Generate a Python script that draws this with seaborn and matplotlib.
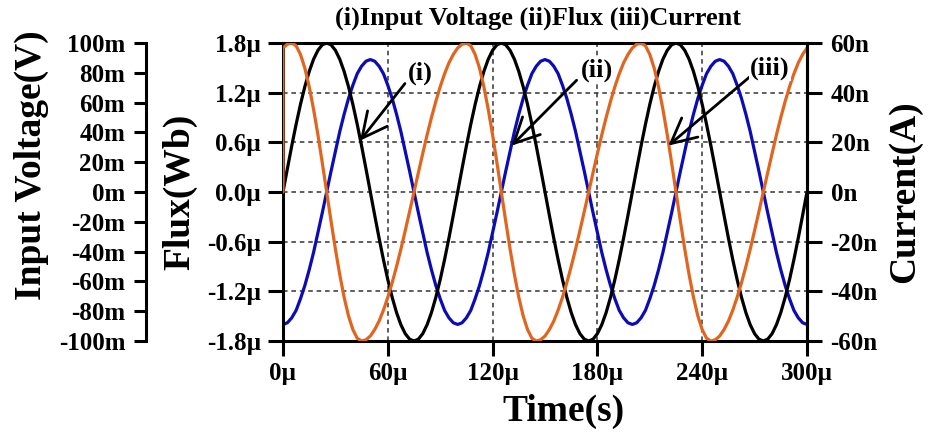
import numpy as np
import pandas as pd
import matplotlib
matplotlib.use("Agg")
import matplotlib.pyplot as plt
import seaborn as sns

# ---------------- data ----------------
time_us = np.arange(0, 300.0 + 1e-9, 2.5)  # sampling grid, 121 points

# (i) input voltage, mV (black)
voltage_mV = [
    0.0, 15.6, 30.9, 45.4, 58.8, 70.7, 80.9, 89.1, 95.1, 98.8,
    100.0, 98.8, 95.1, 89.1, 80.9, 70.7, 58.8, 45.4, 30.9, 15.6,
    0.0, -15.6, -30.9, -45.4, -58.8, -70.7, -80.9, -89.1, -95.1, -98.8,
    -100.0, -98.8, -95.1, -89.1, -80.9, -70.7, -58.8, -45.4, -30.9, -15.6,
    0.0, 15.6, 30.9, 45.4, 58.8, 70.7, 80.9, 89.1, 95.1, 98.8,
    100.0, 98.8, 95.1, 89.1, 80.9, 70.7, 58.8, 45.4, 30.9, 15.6,
    0.0, -15.6, -30.9, -45.4, -58.8, -70.7, -80.9, -89.1, -95.1, -98.8,
    -100.0, -98.8, -95.1, -89.1, -80.9, -70.7, -58.8, -45.4, -30.9, -15.6,
    0.0, 15.6, 30.9, 45.4, 58.8, 70.7, 80.9, 89.1, 95.1, 98.8,
    100.0, 98.8, 95.1, 89.1, 80.9, 70.7, 58.8, 45.4, 30.9, 15.6,
    0.0, -15.6, -30.9, -45.4, -58.8, -70.7, -80.9, -89.1, -95.1, -98.8,
    -100.0, -98.8, -95.1, -89.1, -80.9, -70.7, -58.8, -45.4, -30.9, -15.6,
    0.0,
]

# (ii) flux, uWb (blue)
flux_uWb = [
    -1.60, -1.58, -1.52, -1.43, -1.29, -1.13, -0.94, -0.73, -0.49, -0.25,
    0.00, 0.25, 0.49, 0.73, 0.94, 1.13, 1.29, 1.43, 1.52, 1.58,
    1.60, 1.58, 1.52, 1.43, 1.29, 1.13, 0.94, 0.73, 0.49, 0.25,
    0.00, -0.25, -0.49, -0.73, -0.94, -1.13, -1.29, -1.43, -1.52, -1.58,
    -1.60, -1.58, -1.52, -1.43, -1.29, -1.13, -0.94, -0.73, -0.49, -0.25,
    0.00, 0.25, 0.49, 0.73, 0.94, 1.13, 1.29, 1.43, 1.52, 1.58,
    1.60, 1.58, 1.52, 1.43, 1.29, 1.13, 0.94, 0.73, 0.49, 0.25,
    0.00, -0.25, -0.49, -0.73, -0.94, -1.13, -1.29, -1.43, -1.52, -1.58,
    -1.60, -1.58, -1.52, -1.43, -1.29, -1.13, -0.94, -0.73, -0.49, -0.25,
    0.00, 0.25, 0.49, 0.73, 0.94, 1.13, 1.29, 1.43, 1.52, 1.58,
    1.60, 1.58, 1.52, 1.43, 1.29, 1.13, 0.94, 0.73, 0.49, 0.25,
    0.00, -0.25, -0.49, -0.73, -0.94, -1.13, -1.29, -1.43, -1.52, -1.58,
    -1.60,
]

# (iii) current, nA (orange) -- starts at 0 and jumps at t = 0
current_time_us = [0.0] + list(time_us)
current_nA = [0.0] + [
    58.0, 59.5, 60.0, 58.9, 55.4, 49.9, 42.4, 33.3, 23.0, 11.7,
    0.0, -11.7, -23.0, -33.3, -42.4, -49.9, -55.4, -58.9, -60.0, -59.5,
    -58.0, -55.4, -52.0, -47.6, -42.4, -36.5, -30.0, -23.0, -15.5, -7.8,
    0.0, 7.8, 15.5, 23.0, 30.0, 36.5, 42.4, 47.6, 52.0, 55.4,
    58.0, 59.5, 60.0, 58.9, 55.4, 49.9, 42.4, 33.3, 23.0, 11.7,
    0.0, -11.7, -23.0, -33.3, -42.4, -49.9, -55.4, -58.9, -60.0, -59.5,
    -58.0, -55.4, -52.0, -47.6, -42.4, -36.5, -30.0, -23.0, -15.5, -7.8,
    0.0, 7.8, 15.5, 23.0, 30.0, 36.5, 42.4, 47.6, 52.0, 55.4,
    58.0, 59.5, 60.0, 58.9, 55.4, 49.9, 42.4, 33.3, 23.0, 11.7,
    0.0, -11.7, -23.0, -33.3, -42.4, -49.9, -55.4, -58.9, -60.0, -59.5,
    -58.0, -55.4, -52.0, -47.6, -42.4, -36.5, -30.0, -23.0, -15.5, -7.8,
    0.0, 7.8, 15.5, 23.0, 30.0, 36.5, 42.4, 47.6, 52.0, 55.4,
    58.0,
]

x_ticks = [0, 60, 120, 180, 240, 300]
x_ticklabels = ["0µ", "60µ", "120µ", "180µ", "240µ", "300µ"]
flux_ticks = [-1.8, -1.2, -0.6, 0.0, 0.6, 1.2, 1.8]
flux_ticklabels = ["-1.8µ", "-1.2µ", "-0.6µ", "0.0µ", "0.6µ", "1.2µ", "1.8µ"]
volt_ticks = [-100, -80, -60, -40, -20, 0, 20, 40, 60, 80, 100]
volt_ticklabels = ["-100m", "-80m", "-60m", "-40m", "-20m", "0m",
                   "20m", "40m", "60m", "80m", "100m"]
curr_ticks = [-60, -40, -20, 0, 20, 40, 60]
curr_ticklabels = ["-60n", "-40n", "-20n", "0n", "20n", "40n", "60n"]

title_text = "(i)Input Voltage (ii)Flux (iii)Current"
callout_labels = ["(i)", "(ii)", "(iii)"]
callout_text_xy = [(78.4, 1.44), (179.6, 1.47), (278.8, 1.49)]
callout_tail_xy = [(69.8, 1.31), (168.1, 1.35), (268.3, 1.41)]
callout_tip_xy = [(44.1, 0.62), (130.9, 0.56), (220.6, 0.56)]

# ---------------- style ----------------
sns.set_theme(style="white")
plt.rcParams["font.family"] = ["Liberation Serif", "DejaVu Serif"]
plt.rcParams["font.weight"] = "bold"
plt.rcParams["axes.labelweight"] = "bold"

BLACK = "#000000"
BLUE = "#0c0cb4"
ORANGE = "#e0661f"
LW = 2.3
SPINE_W = 2.2
TICK_FS = 18
LABEL_FS = 27

fig = plt.figure(figsize=(9.31, 4.34), dpi=100)
ax = fig.add_axes([283 / 931, 1 - 341 / 434, 524 / 931, 298 / 434])
ax_v = ax.twinx()
ax_i = ax.twinx()

df_v = pd.DataFrame({"t": time_us, "v": voltage_mV})
df_f = pd.DataFrame({"t": time_us, "f": flux_uWb})
df_i = pd.DataFrame({"t": current_time_us, "i": current_nA})

sns.lineplot(data=df_f, x="t", y="f", ax=ax, color=BLUE, lw=LW,
             estimator=None, sort=False)
sns.lineplot(data=df_v, x="t", y="v", ax=ax_v, color=BLACK, lw=LW,
             estimator=None, sort=False)
sns.lineplot(data=df_i, x="t", y="i", ax=ax_i, color=ORANGE, lw=LW,
             estimator=None, sort=False)

# limits
ax.set_xlim(0, 300)
ax.set_ylim(-1.8, 1.8)
ax_v.set_ylim(-100, 100)
ax_i.set_ylim(-60, 60)

# grid on the main axes
ax.set_xticks(x_ticks)
ax.set_xticklabels(x_ticklabels)
ax.set_yticks(flux_ticks)
ax.set_yticklabels(flux_ticklabels)
ax.grid(True, color="#333333", lw=1.1, linestyle=(0, (3, 2.5)))
ax.set_axisbelow(True)

# main axes (flux) styling
for s in ax.spines.values():
    s.set_visible(True)
    s.set_color("black")
    s.set_linewidth(SPINE_W)
ax.tick_params(axis="both", which="major", direction="out", length=11,
               width=SPINE_W, color="black", labelsize=TICK_FS,
               labelcolor="black", left=True, bottom=True)
ax.tick_params(axis="x", pad=4)
ax.tick_params(axis="y", pad=5)
ax.set_xlabel("Time(s)", fontsize=LABEL_FS, fontweight="bold", color="black")
ax.set_ylabel("Flux(Wb)", fontsize=LABEL_FS, fontweight="bold", color="black")
ax.xaxis.set_label_coords(0.536, -0.238)
ax.xaxis.label.set_va("center")
ax.yaxis.set_label_coords(-0.197, 0.5)
ax.yaxis.label.set_va("center")

# voltage axis, offset to the far left
ax_v.yaxis.tick_left()
ax_v.yaxis.set_label_position("left")
ax_v.spines["left"].set_position(("outward", 98.6))
ax_v.spines["left"].set_visible(True)
ax_v.spines["left"].set_linewidth(SPINE_W)
ax_v.spines["left"].set_color("black")
for k in ("right", "top", "bottom"):
    ax_v.spines[k].set_visible(False)
ax_v.set_yticks(volt_ticks)
ax_v.set_yticklabels(volt_ticklabels)
ax_v.tick_params(axis="y", direction="out", length=9, width=SPINE_W,
                 color="black", labelsize=TICK_FS, labelcolor="black",
                 left=True, right=False, pad=6)
ax_v.set_ylabel("Input Voltage(V)", fontsize=LABEL_FS, fontweight="bold",
                color="black")
ax_v.yaxis.set_label_coords(-0.481, 0.59)
ax_v.yaxis.label.set_va("center")
ax_v.grid(False)

# current axis on the right
for k in ("left", "top", "bottom"):
    ax_i.spines[k].set_visible(False)
ax_i.spines["right"].set_linewidth(SPINE_W)
ax_i.spines["right"].set_color("black")
ax_i.set_yticks(curr_ticks)
ax_i.set_yticklabels(curr_ticklabels)
ax_i.tick_params(axis="y", direction="out", length=11, width=SPINE_W,
                 color="black", labelsize=TICK_FS, labelcolor="black",
                 right=True, left=False, pad=6)
ax_i.set_ylabel("Current(A)", fontsize=LABEL_FS, fontweight="bold",
                color="black")
ax_i.yaxis.set_label_coords(1.187, 0.5)
ax_i.yaxis.label.set_va("center")
ax_i.grid(False)

for a in (ax_v, ax_i):
    a.set_xlabel("")

# call-outs
for lab, txy, tail, tip in zip(callout_labels, callout_text_xy,
                               callout_tail_xy, callout_tip_xy):
    ax_i.annotate("", xy=tip, xytext=tail, xycoords=ax.transData,
                  textcoords=ax.transData,
                  arrowprops=dict(arrowstyle="->,head_length=0.9,head_width=0.45",
                                  lw=2.0, color="black", mutation_scale=20,
                                  shrinkA=0, shrinkB=0))
    ax_i.text(txy[0], txy[1], lab, transform=ax.transData, ha="center",
              va="center", fontsize=19, fontweight="bold", color="black",
              bbox=dict(facecolor="white", edgecolor="none", pad=0.5))

fig.text(538 / 931, 1 - 18 / 434, title_text, ha="center", va="center",
         fontsize=19, fontweight="bold", color="black")

fig.savefig("out.png", dpi=100, facecolor="white")
